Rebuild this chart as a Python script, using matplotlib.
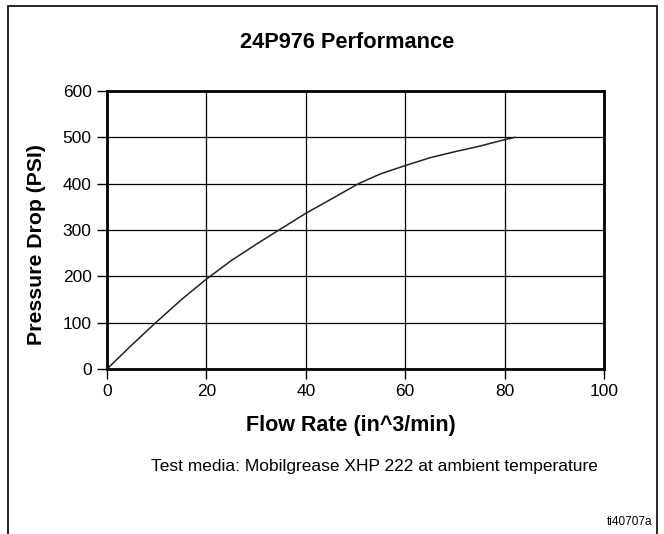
import matplotlib.pyplot as plt
from matplotlib.patches import Rectangle

plt.rcParams['font.family'] = ['Liberation Sans', 'DejaVu Sans']

# curve
flow = [0, 5, 9.8, 15, 20, 25, 30, 34.6, 40, 45, 50.6, 55, 60, 65, 70, 75, 80, 82.1]
pressure = [0, 52, 100, 150, 194, 234, 269, 300, 336, 366, 400, 421, 439, 456, 469, 481, 495, 500]

x_ticks = [0, 20, 40, 60, 80, 100]
y_ticks = [0, 100, 200, 300, 400, 500, 600]

W, H = 664, 534
fig = plt.figure(figsize=(W / 100, H / 100), dpi=100)

# outer frame
fig.patches.append(Rectangle((8 / W, -0.05), (657 - 8) / W, 1.05 - 6 / H,
                             transform=fig.transFigure, fill=False,
                             edgecolor='black', linewidth=1.2))

ax = fig.add_axes([107 / W, 1 - 369 / H, (604 - 107) / W, (369 - 91) / H])
ax.plot(flow, pressure, color='#222222', linewidth=1.1)

ax.set_xlim(0, 100)
ax.set_ylim(0, 600)
ax.set_xticks(x_ticks)
ax.set_yticks(y_ticks)
ax.grid(True, color='black', linewidth=0.9)
ax.set_axisbelow(True)
for sp in ax.spines.values():
    sp.set_linewidth(2)
ax.tick_params(axis='x', length=7, width=1, labelsize=12.5, pad=4)
ax.tick_params(axis='y', length=7, width=1, labelsize=12.5, pad=4)

ax.set_xlabel('Flow Rate (in^3/min)', fontsize=15.5, fontweight='bold')
ax.set_ylabel('Pressure Drop (PSI)', fontsize=15.3, fontweight='bold')
ax.xaxis.set_label_coords(0.49, -0.165)
ax.yaxis.set_label_coords(-0.123, 0.446)

fig.text(347 / W, 1 - 42 / H, '24P976 Performance', fontsize=15.7,
         fontweight='bold', ha='center', va='center')
fig.text(374 / W, 1 - 467 / H,
         'Test media: Mobilgrease XHP 222 at ambient temperature',
         fontsize=12.5, ha='center', va='center')
fig.text(652 / W, 1 - 522 / H, 'ti40707a', fontsize=8.5, ha='right', va='center')

fig.savefig('out.png', dpi=100)
